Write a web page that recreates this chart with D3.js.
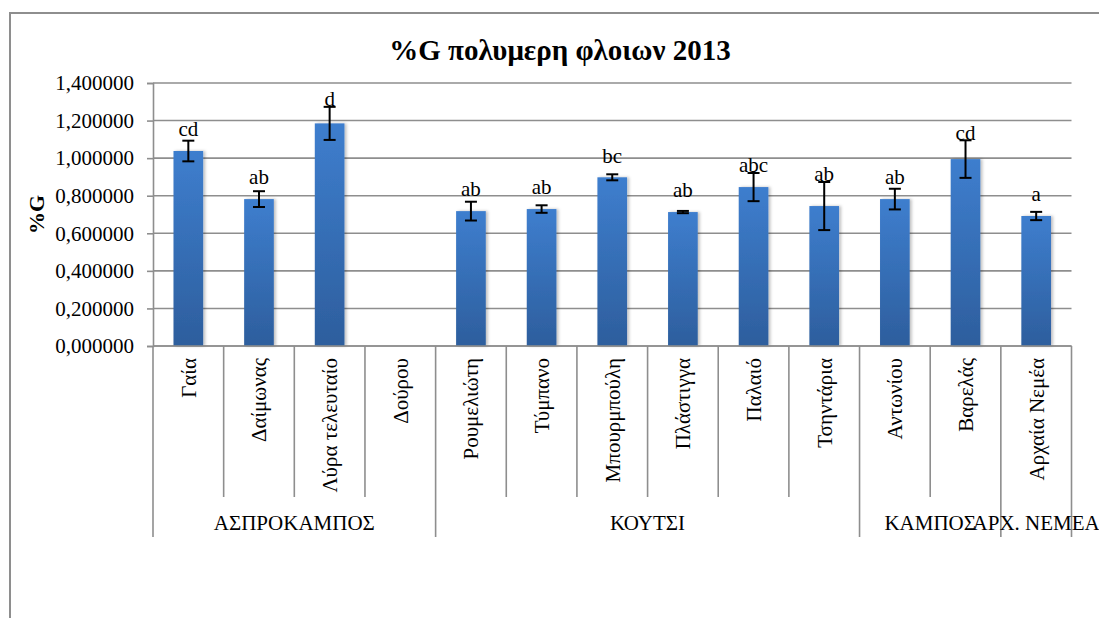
<!DOCTYPE html>
<html>
<head>
<meta charset="utf-8">
<script src="https://cdn.jsdelivr.net/npm/d3@7"></script>
<style>
  html, body { margin: 0; padding: 0; background: #fff; }
  svg { display: block; }
  text { font-family: "Liberation Serif", "Times New Roman", Times, serif; fill: #000; }
</style>
</head>
<body>
<svg id="chart" width="1099" height="618"></svg>
<script>
// Sampling sites (bars) and the location each one belongs to
const categories = ["Γαία", "Δαίμωνας", "Λύρα τελευταίο", "Δούρου",
  "Ρουμελιώτη", "Τύμπανο", "Μπουρμπούλη", "Πλάστιγγα", "Παλαιό", "Τσηντάρια",
  "Αντωνίου", "Βαρελάς", "Αρχαία Νεμέα"];
const groupNames = ["ΑΣΠΡΟΚΑΜΠΟΣ", "ΚΟΥΤΣΙ", "ΚΑΜΠΟΣ", "ΑΡΧ. ΝΕΜΕΑ"];
const groupSizes = [4, 6, 2, 1];

// %G mean per site, its standard error and the significance letters
const values = [1.038, 0.782, 1.185, null, 0.718, 0.729, 0.898, 0.713, 0.846, 0.745, 0.782, 0.995, 0.692];
const errors = [0.055, 0.042, 0.088, null, 0.050, 0.020, 0.016, 0.006, 0.075, 0.128, 0.055, 0.100, 0.022];
const letters = ["cd", "ab", "d", "", "ab", "ab", "bc", "ab", "abc", "ab", "ab", "cd", "a"];

const yTicks = [0, 0.2, 0.4, 0.6, 0.8, 1.0, 1.2, 1.4];
const fmt = v => d3.format(".6f")(v).replace(".", ",");

const svg = d3.select("#chart");
const plot = { left: 153, right: 1071.5, top: 83, bottom: 346 };

const x = d3.scaleBand().domain(categories).range([plot.left, plot.right]).paddingInner(0.58).paddingOuter(0.29);
const xSlot = d3.scaleBand().domain(categories).range([plot.left, plot.right]);
const y = d3.scaleLinear().domain([0, 1.4]).range([plot.bottom, plot.top]);

const grey = "#8e8e8e";
const serif = "Liberation Serif, Times New Roman, serif";

// outer chart frame
svg.append("rect").attr("x", 10).attr("y", 13).attr("width", 1200).attr("height", 700)
  .attr("fill", "#fff").attr("stroke", grey).attr("stroke-width", 2);

// title
svg.append("text").attr("x", 560).attr("y", 60).attr("text-anchor", "middle")
  .attr("font-size", 29).attr("font-weight", "bold").text("%G πολυμερη φλοιων 2013");

// y axis title
svg.append("text").attr("transform", `translate(44,${(plot.top + plot.bottom) / 2}) rotate(-90)`)
  .attr("text-anchor", "middle").attr("font-size", 22).attr("font-weight", "bold").text("%G");

// horizontal gridlines
svg.append("g").selectAll("line").data(yTicks).join("line")
  .attr("x1", plot.left).attr("x2", plot.right)
  .attr("y1", d => y(d)).attr("y2", d => y(d))
  .attr("stroke", grey).attr("stroke-width", 1.6);

// y axis
const yAxis = svg.append("g").attr("transform", `translate(${plot.left},0)`)
  .call(d3.axisLeft(y).tickValues(yTicks).tickFormat(fmt).tickSize(6).tickPadding(13));
yAxis.attr("font-family", serif);
yAxis.select(".domain").attr("stroke", grey).attr("stroke-width", 1.6);
yAxis.selectAll(".tick line").attr("stroke", grey).attr("stroke-width", 1.6);
yAxis.selectAll(".tick text").attr("font-size", 21).attr("fill", "#000");

// bar gradient
const defs = svg.append("defs");
const grad = defs.append("linearGradient").attr("id", "barFill").attr("x1", 0).attr("y1", 0).attr("x2", 0).attr("y2", 1);
grad.append("stop").attr("offset", "0%").attr("stop-color", "#3e7ece");
grad.append("stop").attr("offset", "100%").attr("stop-color", "#2d5e9d");
const shadow = defs.append("filter").attr("id", "barShadow").attr("x", "-20%").attr("y", "-5%").attr("width", "150%").attr("height", "110%");
shadow.append("feDropShadow").attr("dx", 2).attr("dy", 0).attr("stdDeviation", 1.5).attr("flood-color", "#000").attr("flood-opacity", 0.25);

const rows = categories.map((c, i) => ({ c, v: values[i], e: errors[i], l: letters[i] }));

// bars
svg.append("g").selectAll("rect").data(rows.filter(d => d.v != null)).join("rect")
  .attr("x", d => x(d.c)).attr("width", x.bandwidth())
  .attr("y", d => y(d.v)).attr("height", d => y(0) - y(d.v))
  .attr("fill", "url(#barFill)").attr("filter", "url(#barShadow)");

// error bars
const eb = svg.append("g").attr("stroke", "#000").attr("stroke-width", 2)
  .selectAll("g").data(rows.filter(d => d.v != null)).join("g")
  .attr("transform", d => `translate(${x(d.c) + x.bandwidth() / 2},0)`);
eb.append("line").attr("y1", d => y(d.v + d.e)).attr("y2", d => y(d.v - d.e));
eb.append("line").attr("x1", -6).attr("x2", 6).attr("y1", d => y(d.v + d.e)).attr("y2", d => y(d.v + d.e));
eb.append("line").attr("x1", -6).attr("x2", 6).attr("y1", d => y(d.v - d.e)).attr("y2", d => y(d.v - d.e));

// significance letters above each bar
svg.append("g").selectAll("text").data(rows.filter(d => d.v != null)).join("text")
  .attr("x", d => x(d.c) + x.bandwidth() / 2)
  .attr("y", d => Math.min(y(d.v) - 22, y(d.v + d.e) - 8))
  .attr("dy", "0.35em").attr("text-anchor", "middle").attr("font-size", 21)
  .text(d => d.l);

// category axis: baseline, slot separators and rotated names
const catRowBottom = 497, groupRowBottom = 537;
svg.append("line").attr("x1", plot.left).attr("x2", plot.right)
  .attr("y1", plot.bottom).attr("y2", plot.bottom).attr("stroke", grey).attr("stroke-width", 1.6);

const boundaries = d3.range(categories.length + 1).map(i => plot.left + i * xSlot.step());
const groupEnds = d3.cumsum(groupSizes);
const isGroupEdge = i => i === 0 || groupEnds.includes(i);
svg.append("g").selectAll("line").data(boundaries).join("line")
  .attr("x1", d => d).attr("x2", d => d)
  .attr("y1", plot.bottom).attr("y2", (d, i) => isGroupEdge(i) ? groupRowBottom : catRowBottom)
  .attr("stroke", grey).attr("stroke-width", 1.6);

svg.append("g").selectAll("text").data(categories).join("text")
  .attr("transform", d => `translate(${xSlot(d) + xSlot.bandwidth() / 2},358) rotate(-90)`)
  .attr("text-anchor", "end").attr("dy", "0.35em").attr("font-size", 21)
  .text(d => d);

// group names under their sites
const groupStart = [0, ...groupEnds.slice(0, -1)];
svg.append("g").selectAll("text").data(groupNames).join("text")
  .attr("x", (d, i) => plot.left + (groupStart[i] + groupSizes[i] / 2) * xSlot.step())
  .attr("y", 523).attr("dy", "0.35em").attr("text-anchor", "middle").attr("font-size", 21)
  .text(d => d);
</script>
</body>
</html>
